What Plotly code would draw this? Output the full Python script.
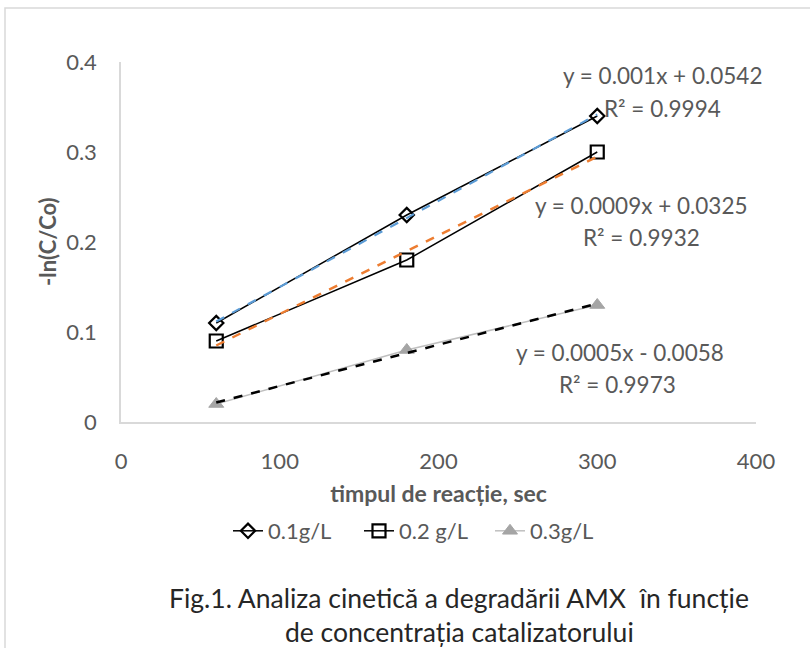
import numpy as np
import plotly.graph_objects as go

time_s = [60, 180, 300]
s01 = [0.11, 0.23, 0.34]
s02 = [0.09, 0.18, 0.30]
s03 = [0.02, 0.08, 0.13]
names = ["0.1g/L", "0.2 g/L", "0.3g/L"]
eq_lines = [("y = 0.001x + 0.0542", "R² = 0.9994"),
            ("y = 0.0009x + 0.0325", "R² = 0.9932"),
            ("y = 0.0005x - 0.0058", "R² = 0.9973")]
caption = ["Fig.1. Analiza cinetică a degradării AMX  în funcție",
           "de concentrația catalizatorului"]
x_ticks = [0, 100, 200, 300, 400]
y_ticks = [0, 0.1, 0.2, 0.3, 0.4]
y_ticktext = ["0", "0.1", "0.2", "0.3", "0.4"]

FONT = "Lato"
GRAY = "#595959"

fig = go.Figure()

series = [s01, s02, s03]
marker_cfg = [
    dict(symbol="diamond-open", size=11, color="black", line=dict(width=2.2, color="black")),
    dict(symbol="square-open", size=13, color="black", line=dict(width=2.2, color="black")),
    dict(symbol="triangle-up", size=13, color="#A5A5A5", line=dict(width=1, color="#A5A5A5")),
]
line_cfg = [dict(color="black", width=1.5), dict(color="black", width=1.5), dict(color="#BFBFBF", width=1.5)]
trend_cfg = [dict(color="#5B9BD5", width=2.2, dash="dash"),
             dict(color="#ED7D31", width=2.5, dash="dash"),
             dict(color="black", width=2.5, dash="dash")]

x = np.array(time_s, dtype=float)
for ys, name, mk, ln in zip(series, names, marker_cfg, line_cfg):
    fig.add_trace(go.Scatter(x=time_s, y=ys, name=name, mode="lines+markers",
                             line=ln, marker=mk, showlegend=True))
for ys, tc in zip(series, trend_cfg):
    k, b = np.polyfit(x, np.array(ys), 1)
    fig.add_trace(go.Scatter(x=[x[0], x[-1]], y=[k * x[0] + b, k * x[-1] + b],
                             mode="lines", line=tc, showlegend=False, hoverinfo="skip"))

def px_x(p):
    return (p - 121) / 635.0
def px_y(p):
    return (422 - p) / 360.0

eq_pos = [((662, 76), (662, 108)), ((641, 205), (641, 237)), ((620, 352), (617, 384))]
for (p1, p2), (t1, t2) in zip(eq_pos, eq_lines):
    for (ax, ay), txt in ((p1, t1), (p2, t2)):
        fig.add_annotation(x=px_x(ax), y=px_y(ay), xref="paper", yref="paper", text=txt,
                           showarrow=False, xanchor="center", yanchor="middle",
                           font=dict(family=FONT, size=22.5, color=GRAY))

for ay, txt in zip((598, 632), caption):
    fig.add_annotation(x=px_x(459), y=px_y(ay), xref="paper", yref="paper", text=txt,
                       showarrow=False, xanchor="center", yanchor="middle",
                       font=dict(family=FONT, size=26.5, color="#262626"))

# y-axis title
fig.add_annotation(x=px_x(47), y=px_y(242), xref="paper", yref="paper",
                   text="<b>-ln(C/Co)</b>", textangle=-90, showarrow=False,
                   xanchor="center", yanchor="middle",
                   font=dict(family=FONT, size=22, color=GRAY))

fig.add_shape(type="rect", xref="paper", yref="paper",
              x0=px_x(5), y0=px_y(700), x1=px_x(840), y1=px_y(8),
              line=dict(color="#D9D9D9", width=1.5), layer="below")

fig.update_layout(
    width=810, height=648,
    margin=dict(l=121, r=54, t=62, b=226),
    paper_bgcolor="white", plot_bgcolor="white",
    font=dict(family=FONT, color=GRAY, size=20),
    showlegend=True,
    legend=dict(orientation="h", x=px_x(228), y=px_y(531), xanchor="left", yanchor="middle",
                font=dict(family=FONT, size=22, color=GRAY), tracegroupgap=0,
                entrywidth=86, entrywidthmode="pixels"),
    xaxis=dict(range=[0, 400], tickvals=x_ticks, showgrid=False, zeroline=False,
               showline=True, linecolor="#D9D9D9", linewidth=1.5, ticks="",
               tickfont=dict(size=22, color=GRAY), ticklabelstandoff=19, automargin=False,
               title=dict(text="<b>timpul de reacție, sec</b>", font=dict(size=23, color=GRAY), standoff=13)),
    yaxis=dict(range=[0, 0.4], tickvals=y_ticks, ticktext=y_ticktext,
               showgrid=False, zeroline=False,
               showline=True, linecolor="#D9D9D9", linewidth=1.5, ticks="",
               tickfont=dict(size=22, color=GRAY), ticklabelstandoff=18, automargin=False),
)

fig.write_html("out.html", post_script="document.body.style.margin='0px';",
               config={"displayModeBar": False})
